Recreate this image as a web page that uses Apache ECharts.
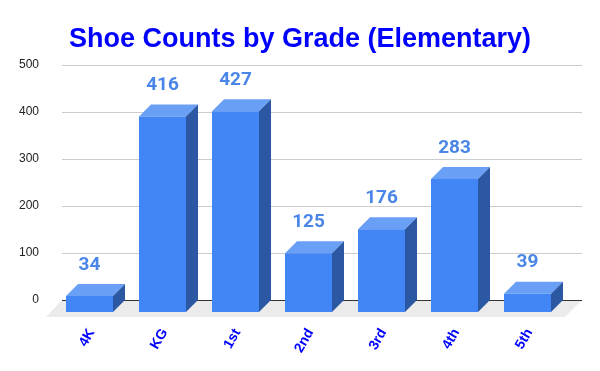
<!DOCTYPE html>
<html>
<head>
<meta charset="utf-8">
<script src="https://cdn.jsdelivr.net/npm/echarts@6/dist/echarts.min.js"></script>
<style>html,body{margin:0;padding:0;background:#fff;}#c{width:600px;height:371px;}</style>
</head>
<body>
<div id="c"></div>
<script>
var categories = ['4K', 'KG', '1st', '2nd', '3rd', '4th', '5th'];
var counts = [34, 416, 427, 125, 176, 283, 39];
var yTicks = [0, 100, 200, 300, 400, 500];

var chart = echarts.init(document.getElementById('c'));
var DEPTH = 12;
var FRONT = '#4285f4', TOP = '#6a9ff6', SIDE = '#2b57a3';

function floorItem(params, api) {
  var p0 = api.coord([0, 0]);
  var p1 = api.coord([1, 0]);
  return {
    type: 'group',
    children: [
      { type: 'polygon', shape: { points: [p0, p1, [p1[0] - 17, p1[1] + 17], [p0[0] - 16, p0[1] + 17]] },
        style: { fill: '#ebebeb' } },
      { type: 'line', shape: { x1: p0[0], y1: p0[1] + 0.5, x2: p1[0], y2: p1[1] + 0.5 },
        style: { stroke: '#333', lineWidth: 1 } }
    ]
  };
}

function barItem(params, api) {
  var i = api.value(0), v = api.value(1);
  var top = api.coord([i, v]);
  var base = api.coord([i, 0]);
  var w = api.size([1, 0])[0] * 0.644;
  var bl = top[0] - w / 2, br = top[0] + w / 2;
  var bt = top[1], bb = base[1];
  var fl = bl - DEPTH, fr = br - DEPTH, ft = bt + DEPTH, fb = bb + DEPTH;
  return {
    type: 'group',
    children: [
      { type: 'polygon', shape: { points: [[fl, ft], [fr, ft], [br, bt], [bl, bt]] }, style: { fill: TOP } },
      { type: 'polygon', shape: { points: [[fr, ft], [br, bt], [br, bb], [fr, fb]] }, style: { fill: SIDE } },
      { type: 'rect', shape: { x: fl, y: ft, width: w, height: fb - ft }, style: { fill: FRONT } },
      { type: 'text', x: (fl + fr) / 2, y: ft - 31,
        style: { text: String(v), fill: '#4a86e8', font: 'bold 19px Roboto', textAlign: 'center', textVerticalAlign: 'middle' } }
    ]
  };
}

var barData = counts.map(function (v, i) { return [i, v]; });

var yCommon = { type: 'value', min: yTicks[0], max: yTicks[yTicks.length - 1], interval: 100 };

chart.setOption({
  animation: false,
  title: {
    text: 'Shoe Counts by Grade (Elementary)',
    left: 'center', top: 21,
    textStyle: { color: '#0000ff', fontSize: 27, fontWeight: 'bold', fontFamily: 'Liberation Sans, Arial' }
  },
  grid: [
    { left: 62, width: 520, top: 65, height: 235 },
    { left: 65, width: 511, top: 65, height: 235 },
    { left: 55, width: 511, top: 65, height: 235 }
  ],
  xAxis: [
    { gridIndex: 0, type: 'value', min: 0, max: 1, show: false },
    { gridIndex: 1, type: 'category', data: categories, show: false },
    { gridIndex: 2, type: 'category', data: categories,
      axisLine: { show: false }, axisTick: { show: false },
      axisLabel: { rotate: 60, margin: 30, color: '#0000ff', fontSize: 14, fontWeight: 'bold', fontFamily: 'Liberation Sans, Arial' } }
  ],
  yAxis: [
    Object.assign({ gridIndex: 0,
      axisLine: { show: false }, axisTick: { show: false },
      axisLabel: { margin: 23, color: '#222', fontSize: 12, fontFamily: 'Liberation Sans, Arial', padding: [4, 0, 0, 0] },
      splitLine: { lineStyle: { color: '#cccccc', width: 1 } } }, yCommon),
    Object.assign({ gridIndex: 1, show: false, splitLine: { show: false } }, yCommon),
    Object.assign({ gridIndex: 2, show: false, splitLine: { show: false } }, yCommon)
  ],
  series: [
    { type: 'custom', xAxisIndex: 0, yAxisIndex: 0, z: 2, data: [[0, 0]], renderItem: floorItem, silent: true },
    { type: 'custom', xAxisIndex: 1, yAxisIndex: 1, z: 3, data: barData, renderItem: barItem,
      encode: { x: 0, y: 1 } }
  ]
});
</script>
</body>
</html>
